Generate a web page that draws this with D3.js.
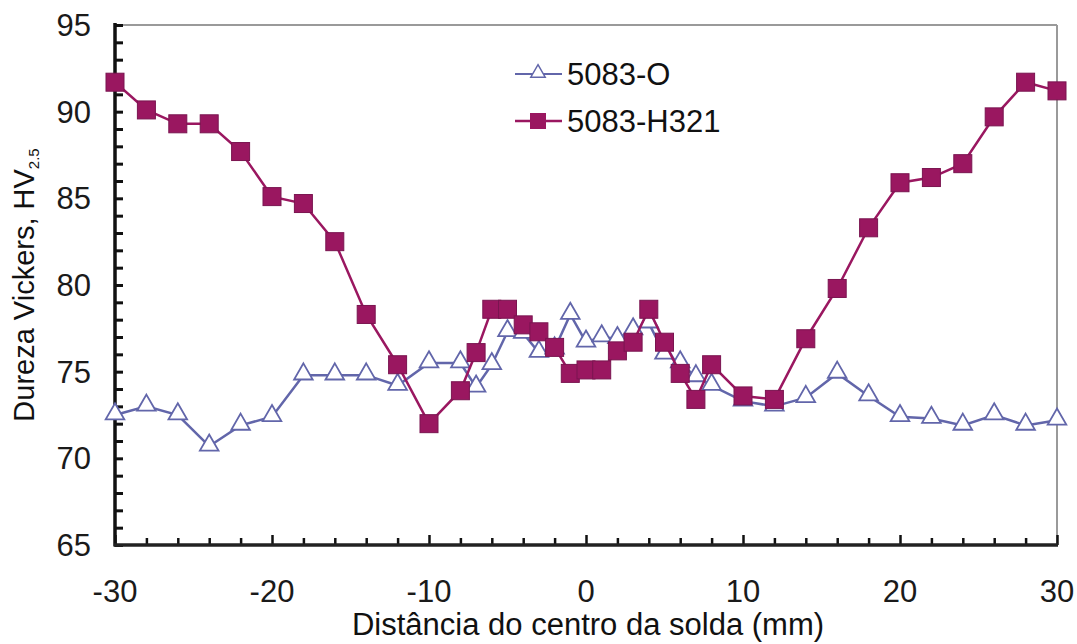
<!DOCTYPE html>
<html>
<head>
<meta charset="utf-8">
<script src="https://cdn.jsdelivr.net/npm/d3@7"></script>
<style>
  body { margin: 0; background: #fff; }
  svg { font-family: Arial, "Liberation Sans", sans-serif; }
</style>
</head>
<body>
<svg id="svg" width="1077" height="644"></svg>
<script>
// Data
var xO = [-30, -28, -26, -24, -22, -20, -18, -16, -14, -12, -10, -8, -7, -6, -5, -4, -3, -2, -1, 0, 1, 2, 3, 4, 5, 6, 7, 8, 10, 12, 14, 16, 18, 20, 22, 24, 26, 28, 30];
var yO = [72.5, 73.0, 72.5, 70.7, 71.9, 72.4, 74.8, 74.8, 74.8, 74.2, 75.5, 75.5, 74.1, 75.4, 77.3, 77.2, 76.1, 76.3, 78.3, 76.7, 77.0, 76.9, 77.4, 77.8, 76.0, 75.5, 74.7, 74.2, 73.3, 73.0, 73.5, 74.9, 73.6, 72.4, 72.3, 71.9, 72.5, 71.9, 72.2];

var xH = [-30, -28, -26, -24, -22, -20, -18, -16, -14, -12, -10, -8, -7, -6, -5, -4, -3, -2, -1, 0, 1, 2, 3, 4, 5, 6, 7, 8, 10, 12, 14, 16, 18, 20, 22, 24, 26, 28, 30];
var yH = [91.7, 90.1, 89.3, 89.3, 87.7, 85.1, 84.7, 82.5, 78.3, 75.4, 72.0, 73.9, 76.1, 78.6, 78.6, 77.7, 77.3, 76.4, 74.9, 75.1, 75.1, 76.2, 76.7, 78.6, 76.7, 74.9, 73.4, 75.4, 73.6, 73.4, 76.9, 79.8, 83.3, 85.9, 86.2, 87.0, 89.7, 91.7, 91.2];

var seriesNames = ["5083-O", "5083-H321"];
var xTicks = [-30, -20, -10, 0, 10, 20, 30];
var yTicks = [65, 70, 75, 80, 85, 90, 95];

var svg = d3.select("svg");

// plot area edges
var pLeft = 115, pRight = 1057, pTop = 25, pBottom = 545;

var xScale = d3.scaleLinear().domain([-30, 30]).range([pLeft, pRight]);
var yScale = d3.scaleLinear().domain([65, 95]).range([pBottom, pTop]);

var colO = "#6266aa", colH = "#9a1760";

// frame: top and right gray
svg.append("line").attr("x1", pLeft).attr("x2", pRight).attr("y1", pTop).attr("y2", pTop)
    .attr("stroke", "#9a9a9a").attr("stroke-width", 2);
svg.append("line").attr("x1", pRight).attr("x2", pRight).attr("y1", pTop).attr("y2", pBottom)
    .attr("stroke", "#9a9a9a").attr("stroke-width", 2);

// Y axis with inward ticks
var yAxis = svg.append("g").attr("transform", "translate(" + pLeft + ",0)");
yAxis.call(d3.axisRight(yScale).tickValues(d3.range(65, 96, 1)).tickSize(8).tickFormat(""));
yAxis.select(".domain").remove();
yAxis.selectAll(".tick line").attr("stroke", "#111").attr("stroke-width", 3);

svg.append("g").selectAll("text").data(yTicks).enter().append("text")
    .attr("x", 91).attr("y", function(d) { return yScale(d); })
    .attr("dy", "0.36em").attr("text-anchor", "end")
    .attr("font-size", 31).attr("fill", "#1a1a1a")
    .text(function(d) { return d; });

// X axis with inward ticks, longer at majors
var xAxis = svg.append("g").attr("transform", "translate(0," + pBottom + ")");
xAxis.call(d3.axisTop(xScale).tickValues(d3.range(-30, 31, 2)).tickSize(7).tickFormat(""));
xAxis.select(".domain").remove();
xAxis.selectAll(".tick line").attr("stroke", "#111").attr("stroke-width", 2.5)
    .attr("y2", function(d) { return d % 10 === 0 ? -10 : -7; });

svg.append("g").selectAll("text").data(xTicks).enter().append("text")
    .attr("x", function(d) { return xScale(d); }).attr("y", 602)
    .attr("text-anchor", "middle")
    .attr("font-size", 31).attr("fill", "#1a1a1a")
    .text(function(d) { return d; });

// axis lines
svg.append("line").attr("x1", pLeft).attr("x2", pLeft).attr("y1", pTop - 2).attr("y2", pBottom + 1.5)
    .attr("stroke", "#111").attr("stroke-width", 3.5);
svg.append("line").attr("x1", pLeft - 1).attr("x2", pRight + 1).attr("y1", pBottom).attr("y2", pBottom)
    .attr("stroke", "#222").attr("stroke-width", 3.5);

// axis titles
svg.append("text").attr("x", 588).attr("y", 635).attr("text-anchor", "middle")
    .attr("font-size", 31).attr("fill", "#111")
    .text("Distância do centro da solda (mm)");

var yTitle = svg.append("text")
    .attr("transform", "translate(34,285) rotate(-90)")
    .attr("text-anchor", "middle").attr("font-size", 29).attr("fill", "#111");
yTitle.append("tspan").text("Dureza Vickers, HV");
yTitle.append("tspan").attr("font-size", 15).attr("dy", 5).text("2.5");

var line = d3.line()
    .x(function(d) { return xScale(d[0]); })
    .y(function(d) { return yScale(d[1]); });

var dataO = xO.map(function(x, i) { return [x, yO[i]]; });
var dataH = xH.map(function(x, i) { return [x, yH[i]]; });

var triangle = d3.symbol().type(d3.symbolTriangle).size(150);

// 5083-O series
svg.append("path").datum(dataO).attr("d", line)
    .attr("fill", "none").attr("stroke", colO).attr("stroke-width", 2.5);
svg.append("g").selectAll("path").data(dataO).enter().append("path")
    .attr("d", triangle)
    .attr("transform", function(d) { return "translate(" + xScale(d[0]) + "," + (yScale(d[1]) - 1) + ")"; })
    .attr("fill", "#fff").attr("stroke", colO).attr("stroke-width", 1.8);

// 5083-H321 series
svg.append("path").datum(dataH).attr("d", line)
    .attr("fill", "none").attr("stroke", colH).attr("stroke-width", 2.5);
svg.append("g").selectAll("rect").data(dataH).enter().append("rect")
    .attr("x", function(d) { return xScale(d[0]) - 9; })
    .attr("y", function(d) { return yScale(d[1]) - 9; })
    .attr("width", 18).attr("height", 18)
    .attr("fill", colH).attr("stroke", "#7a1450").attr("stroke-width", 1);

// legend
var legend = svg.append("g");
legend.append("line").attr("x1", 515).attr("x2", 562).attr("y1", 74).attr("y2", 74)
    .attr("stroke", colO).attr("stroke-width", 2);
legend.append("path").attr("d", d3.symbol().type(d3.symbolTriangle).size(90))
    .attr("transform", "translate(538,73)")
    .attr("fill", "#fff").attr("stroke", colO).attr("stroke-width", 1.5);
legend.append("text").attr("x", 567).attr("y", 85).attr("font-size", 31).attr("fill", "#111")
    .text(seriesNames[0]);

legend.append("line").attr("x1", 515).attr("x2", 562).attr("y1", 121).attr("y2", 121)
    .attr("stroke", colH).attr("stroke-width", 2.5);
legend.append("rect").attr("x", 530).attr("y", 113).attr("width", 16).attr("height", 16)
    .attr("fill", colH);
legend.append("text").attr("x", 567).attr("y", 132).attr("font-size", 31).attr("fill", "#111")
    .text(seriesNames[1]);
</script>
</body>
</html>
